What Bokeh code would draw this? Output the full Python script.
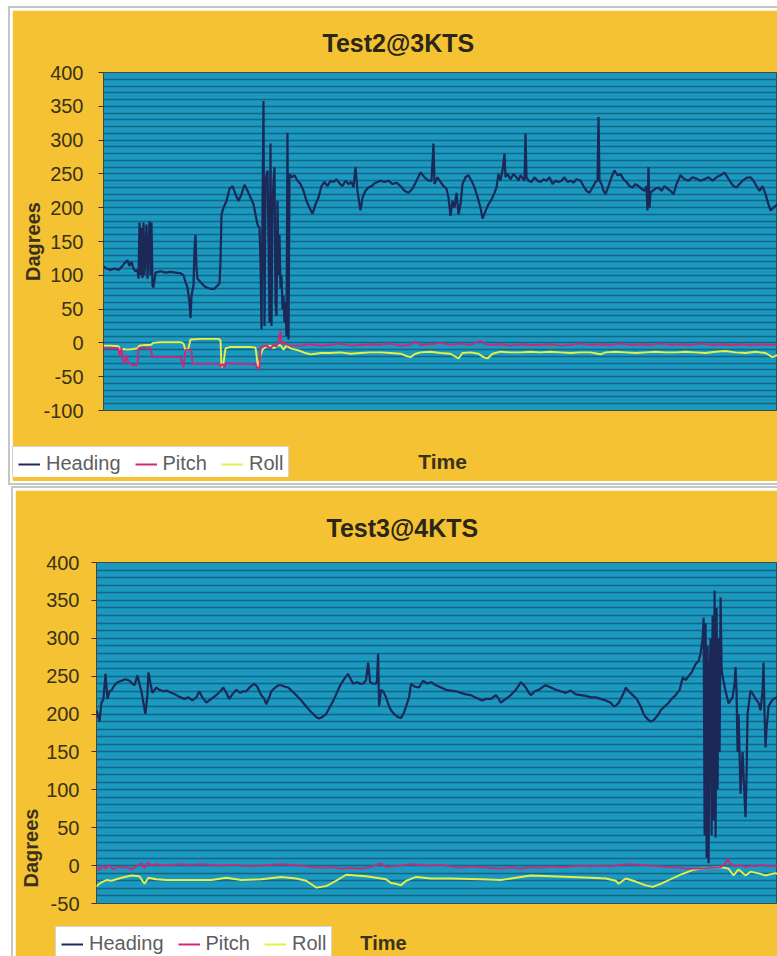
from bokeh.plotting import figure
from bokeh.models import Range1d, FixedTicker, Legend, LegendItem, Title, Label
from bokeh.embed import file_html
from bokeh.resources import INLINE

# ---------------- Chart 1 : Test2@3KTS ----------------
t1_heading = [103,106,110,114,118,121,124,127,129,131,133,135,137,138,139,140,141,142,143,144,146,147,149,150,151,152,153,155,160,165,170,175,180,183,185,187,189,190,191,193,194,195,196,197,200,203,206,210,214,217,219,220,221,223,226,229,232,235,238,241,244,247,250,253,255,257,259,260,261,262,263,264,265,267,268,269,270,271,272,273,274,275,276,277,278,279,280,281,282,283,284,285,286,287,288,289,291,294,297,300,303,306,309,312,315,318,321,324,327,330,333,336,339,342,345,348,351,353,355,357,359,360,362,365,368,371,374,377,380,384,388,392,396,400,404,408,412,416,420,424,428,431,433,434,437,440,443,446,448,450,452,454,456,458,460,462,465,468,471,474,477,480,482,485,488,491,494,496,498,500,502,504,505,507,510,513,516,518,520,522,524,525,526,528,531,534,537,540,543,546,549,552,555,558,561,564,567,570,573,576,580,583,586,589,592,595,597,598,599,601,603,605,608,611,614,617,620,623,626,629,632,635,638,641,644,646,647,648,649,650,652,655,658,661,664,667,670,673,676,680,684,688,692,696,700,704,708,712,716,720,724,727,730,733,736,739,742,746,750,753,756,759,762,765,768,770,773,777]
heading1 = [113,110,108,110,108,112,118,122,114,120,110,106,108,95,178,100,170,96,178,100,175,95,180,100,178,85,82,104,106,104,105,104,103,100,90,82,60,37,70,85,140,160,110,95,90,85,82,80,80,85,88,120,190,200,210,228,232,220,210,220,234,225,215,205,190,175,170,120,20,200,358,25,240,255,150,30,295,25,200,240,260,60,40,210,100,160,80,100,50,70,30,60,10,311,5,250,245,248,240,235,225,210,200,191,205,215,232,238,232,240,238,242,236,232,240,235,238,230,260,225,205,196,215,225,230,232,236,238,240,238,240,235,237,232,225,222,228,240,252,245,240,240,295,235,245,238,232,228,215,188,210,200,222,190,205,235,245,248,240,230,216,200,184,195,205,212,222,230,250,240,255,280,245,250,242,250,245,240,248,244,240,310,245,240,238,245,240,238,242,240,245,235,240,238,240,245,238,240,237,242,240,232,225,222,230,238,240,334,240,235,225,220,232,245,255,248,250,242,238,232,230,235,232,228,225,232,196,260,200,222,225,228,230,225,232,228,225,220,235,248,242,240,245,243,240,242,245,240,245,248,252,245,238,232,230,235,240,244,245,240,232,225,232,220,205,196,200,205]

t1_pitch = [103,110,118,119,121,122,124,126,128,132,136,137,138,141,145,150,151,152,160,170,180,183,184,185,189,191,192,200,210,218,220,222,224,226,230,240,250,255,257,259,260,263,266,270,273,276,278,280,281,284,287,290,300,310,320,330,340,350,360,370,380,390,400,410,415,420,430,440,450,460,470,480,485,490,500,510,520,530,540,550,560,570,580,590,600,610,620,630,640,650,660,670,680,690,700,710,720,730,740,750,760,770,777]
pitch1 = [-8,-8,-8,-20,-8,-25,-30,-18,-30,-33,-33,-30,-8,-7,-8,-8,-15,-21,-21,-21,-21,-36,-21,-10,-10,-12,-31,-31,-31,-31,-35,-31,-36,-30,-30,-31,-31,-32,-37,-38,-6,-5,-4,-8,-3,-5,2,18,-2,0,-3,-4,-4,-2,-4,-3,-1,-4,-3,-2,-3,-1,-4,-3,2,-3,-2,0,-3,-1,-3,3,-2,-3,-2,-4,-2,-3,-3,-2,-4,-3,-1,-3,-2,-3,-1,-3,-2,-3,-1,-3,-2,-3,-1,-3,-2,-3,-2,-3,-2,-3,-2]

t1_roll = [103,110,118,120,123,127,133,137,139,145,150,153,160,170,180,183,185,188,190,200,210,218,220,221,223,225,230,240,250,255,257,258,260,262,265,270,273,276,280,283,286,290,295,300,305,310,315,320,330,340,350,360,370,380,390,400,405,410,415,420,430,440,450,458,462,470,478,483,487,492,500,510,520,530,540,550,560,570,580,590,597,600,605,615,625,635,645,655,665,675,685,695,705,715,725,735,745,755,765,772,777]
roll1 = [-4,-4,-5,-11,-9,-10,-9,-8,-4,-3,-3,0,1,1,1,-1,-11,-8,5,6,6,6,4,-36,-30,-8,-6,-6,-6,-7,-30,-36,-18,-10,-6,-4,-8,-5,-3,-10,-4,-8,-10,-12,-15,-17,-16,-15,-15,-14,-16,-15,-14,-14,-15,-16,-19,-21,-16,-14,-13,-15,-16,-23,-15,-14,-16,-21,-23,-16,-13,-14,-14,-13,-14,-13,-14,-15,-14,-14,-16,-17,-14,-13,-14,-15,-14,-13,-14,-14,-13,-14,-15,-13,-12,-14,-15,-13,-15,-21,-18]

# ---------------- Chart 2 : Test3@4KTS ----------------
t2_heading = [95,97,98,100,102,104,106,108,110,113,116,120,124,128,131,133,136,138,140,142,144,146,147,149,151,155,158,162,165,170,175,179,183,187,191,195,198,201,205,208,212,215,219,222,225,228,231,235,239,242,245,249,253,256,260,263,265,268,270,274,277,280,284,287,291,295,300,305,309,312,315,318,321,325,329,333,337,340,344,347,350,352,356,359,362,365,367,369,372,375,376,377,378,380,382,385,388,390,393,397,400,403,405,408,410,414,418,422,426,430,435,440,445,450,455,460,465,470,474,478,481,485,490,495,498,500,505,510,515,520,523,525,528,530,534,538,542,545,550,555,560,565,570,575,580,585,590,595,600,605,610,613,615,618,620,623,625,628,632,636,640,643,645,648,650,653,655,658,660,664,668,671,675,679,682,685,688,691,695,698,700,702,703,704,705,706,707,708,709,710,711,712,713,714,715,716,717,718,719,720,721,722,725,728,730,732,734,735,736,737,738,740,742,744,745,746,747,750,753,755,758,760,762,763,764,765,766,768,770,773,777]
heading2 = [205,195,190,215,220,253,220,230,231,238,242,244,246,244,240,238,251,240,230,215,200,225,255,240,228,235,232,230,231,228,225,222,220,222,218,222,230,222,215,218,222,225,230,235,228,220,226,232,228,230,230,236,240,236,225,220,213,222,230,235,238,238,236,235,230,225,218,210,204,200,196,194,196,200,210,220,232,240,248,253,245,240,242,240,240,245,268,242,240,240,245,280,210,232,230,222,210,205,200,196,195,202,210,222,240,236,235,244,240,242,238,235,232,231,230,228,226,225,222,220,218,220,220,225,220,215,220,225,232,242,238,235,228,225,230,232,236,238,235,232,230,228,231,226,225,224,222,222,220,218,215,210,211,215,220,228,235,230,225,220,210,200,196,192,190,192,195,200,205,210,215,220,225,232,248,245,250,255,266,270,280,300,327,40,320,10,290,3,250,300,40,330,60,363,37,340,100,300,150,354,260,250,230,214,218,222,240,262,230,150,200,95,150,90,64,120,200,231,225,220,215,205,230,268,200,156,180,210,215,220,222]

t2_pitch = [95,98,101,104,107,110,113,116,120,125,130,135,140,143,146,150,155,160,165,170,180,190,200,210,220,230,240,250,260,270,280,290,300,310,320,330,340,350,360,370,375,380,385,390,400,410,420,430,440,450,460,470,480,490,500,510,520,530,540,550,560,570,580,590,600,610,620,630,640,650,660,670,680,690,700,710,720,725,727,730,735,740,745,750,755,760,765,770,777]
pitch2 = [-2,-6,0,-4,1,-3,-5,-1,-3,-2,-5,-1,3,-4,4,0,2,1,0,1,2,1,2,1,0,1,0,-1,0,1,2,1,0,-2,-3,-2,-4,-3,-4,-2,1,3,-2,-1,0,2,1,0,1,-1,-3,-1,-2,-3,-4,-2,-4,-2,-3,-1,-2,-1,0,-1,0,-1,1,2,1,0,-1,-2,-3,-4,-4,-3,-2,3,9,2,-1,1,-2,0,-1,1,0,-1,0]

t2_roll = [95,96,100,105,110,120,130,138,143,147,155,165,180,200,210,225,240,260,280,295,305,315,325,335,345,365,380,385,390,395,400,405,415,430,450,480,500,515,530,550,570,590,605,615,618,625,635,645,652,660,670,680,692,700,710,720,728,733,738,745,750,760,765,775,777]
roll2 = [-28,-26,-22,-19,-20,-16,-13,-14,-24,-16,-18,-19,-19,-19,-19,-16,-19,-18,-15,-17,-20,-29,-27,-20,-12,-14,-17,-18,-23,-24,-26,-20,-15,-17,-17,-18,-19,-16,-13,-14,-15,-16,-17,-20,-24,-17,-21,-26,-28,-24,-18,-12,-6,-4,-3,-2,-4,-13,-5,-13,-8,-11,-13,-10,-11]

series_names = ["Heading", "Pitch", "Roll"]
y_ticks1 = [-100, -50, 0, 50, 100, 150, 200, 250, 300, 350, 400]
y_ticks2 = [-50, 0, 50, 100, 150, 200, 250, 300, 350, 400]

ORANGE = "#F4C232"
TEAL = "#1b99c0"
GRID = "#15607c"
HEAD_C = "#1b2858"
PITCH_C = "#d0267c"
ROLL_C = "#e6ef48"
COLORS = [HEAD_C, PITCH_C, ROLL_C]
TXT = "#3a3218"
FONT = "Liberation Sans"


def style_text(t, size, bold=True, color=TXT):
    t.text_font = FONT
    t.text_font_size = size
    t.text_font_style = "bold" if bold else "normal"
    t.text_color = color


def make_chart(title, x0, frame_w, fig_w, fig_h, left, top, bottom, ymin, ticks, series,
               title_offset, title_standoff, standoff, margin):
    p = figure(width=fig_w, height=fig_h, x_range=Range1d(0, frame_w),
               y_range=Range1d(ymin, 400), output_backend="svg", toolbar_location=None,
               title=title, x_axis_location=None,
               min_border_left=left, min_border_right=0,
               min_border_top=top, min_border_bottom=bottom)
    p.margin = margin
    p.styles = {"outline": "2px solid #c6c6c6", "outline-offset": "2px"}
    p.background_fill_color = TEAL
    p.border_fill_color = ORANGE
    p.outline_line_color = "#3e4c3c"
    p.outline_line_width = 1
    p.xgrid.visible = False
    p.ygrid.ticker = FixedTicker(ticks=list(range(ymin, 401, 10)))
    p.ygrid.grid_line_color = GRID
    p.ygrid.grid_line_width = 1.6
    p.ygrid.grid_line_alpha = 0.9

    p.title.align = "left"
    p.title.offset = title_offset
    p.title.standoff = title_standoff
    p.title.vertical_align = "bottom"
    style_text(p.title, "25px", color="#2a2618")

    ax = p.yaxis[0]
    ax.ticker = FixedTicker(ticks=ticks, minor_ticks=[])
    ax.major_label_overrides = {v: str(v) for v in ticks}
    ax.axis_line_color = None
    ax.major_tick_in = 0
    ax.major_tick_out = 5
    ax.major_tick_line_color = "#333333"
    ax.minor_tick_line_color = None
    ax.major_label_standoff = standoff
    ax.major_label_text_font = FONT
    ax.major_label_text_font_size = "20px"
    ax.major_label_text_color = TXT

    widths = [2.2, 1.9, 1.9]
    for idx in [2, 1, 0]:
        t, v = series[idx]
        xs = [x - x0 for x in t]
        p.line(xs, v, line_color=COLORS[idx], line_width=widths[idx])
    return p


def make_legend_strip(w, h, page_left, page_top, time_x, time_y, time_size):
    # small transparent strip holding the legend box and the "Time" caption
    q = figure(width=w, height=h, x_range=Range1d(0, 1), y_range=Range1d(0, 1),
               output_backend="svg", toolbar_location=None,
               x_axis_location=None, y_axis_location=None,
               min_border_left=0, min_border_right=0, min_border_top=0, min_border_bottom=0)
    q.outline_line_color = None
    q.background_fill_alpha = 0
    q.border_fill_alpha = 0
    q.xgrid.visible = False
    q.ygrid.visible = False
    q.styles = {"position": "absolute", "left": f"{page_left}px", "top": f"{page_top}px"}
    # legend swatches only: these key renderers sit outside the visible range
    rs = [q.line([5, 6], [5, 6], line_color=c, line_width=2) for c in COLORS]
    legend = Legend(items=[LegendItem(label=series_names[i], renderers=[rs[i]]) for i in range(3)],
                    orientation="horizontal", location="top_left")
    legend.label_text_font = FONT
    legend.label_text_font_size = "20px"
    legend.label_text_color = "#5e5e5e"
    legend.glyph_width = 22
    legend.glyph_height = 20
    legend.label_height = 20
    legend.label_standoff = 6
    legend.spacing = 14
    legend.padding = 5
    legend.margin = 0
    legend.border_line_color = "#a9a9a9"
    legend.background_fill_color = "white"
    legend.background_fill_alpha = 1
    q.add_layout(legend)
    lab = Label(x=time_x, y=time_y, x_units="screen", y_units="screen", text="Time",
                text_align="center", text_baseline="middle")
    style_text(lab, time_size)
    q.add_layout(lab)
    return q


# chart 1: page box x 12..777, y 10..481 ; frame x 103..777, y 72..410
p1 = make_chart("Test2@3KTS", 103, 674, 765, 471, 91, 62, 71, -100, y_ticks1,
                [(t1_heading, heading1), (t1_pitch, pitch1), (t1_roll, roll1)],
                title_offset=219, title_standoff=31, standoff=15, margin=(10, 0, 0, 12))
p1.yaxis.axis_label = "Dagrees"
p1.yaxis.axis_label_standoff = -4
p1.yaxis.axis_label_text_font = FONT
p1.yaxis.axis_label_text_font_size = "20px"
p1.yaxis.axis_label_text_font_style = "bold"
p1.yaxis.axis_label_text_color = TXT

# chart 2: page box x 15..777, y 490..956 ; frame x 95..777, y 562..903
p2 = make_chart("Test3@4KTS", 95, 682, 762, 466, 80, 72, 53, -50, y_ticks2,
                [(t2_heading, heading2), (t2_pitch, pitch2), (t2_roll, roll2)],
                title_offset=230, title_standoff=42, standoff=12, margin=(9, 0, 0, 15))
dag2 = Title(text="Dagrees", align="left", offset=16, standoff=4, vertical_align="bottom")
style_text(dag2, "20px")
p2.add_layout(dag2, "left")

# legend strips (page coordinates of their top-left corners)
q1 = make_legend_strip(470, 31, 12, 446, 430, 16, "21px")
q2 = make_legend_strip(370, 31, 55, 926, 328, 15, "20px")

open("out.html", "w").write(file_html([p1, p2, q1, q2], INLINE))
